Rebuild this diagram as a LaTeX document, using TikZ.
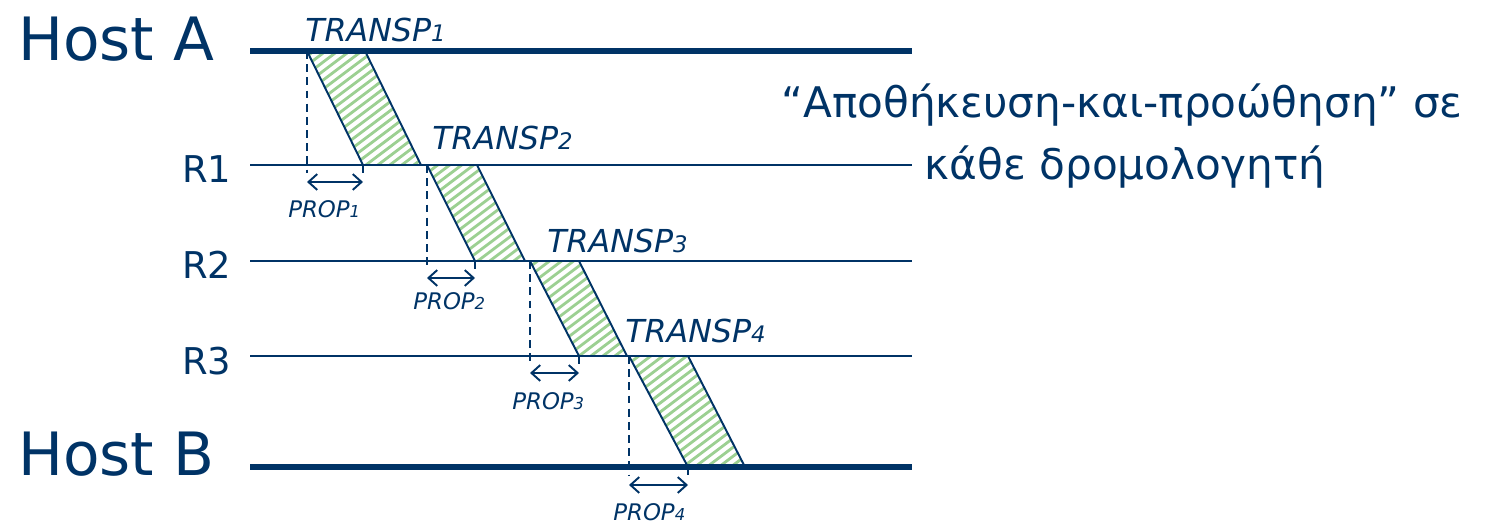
\documentclass[tikz,border=0pt]{standalone}
\usepackage{fontspec}
\setmainfont{DejaVu Sans}
\usetikzlibrary{arrows.meta}
\definecolor{navy}{RGB}{0,51,102}
\definecolor{hatch}{RGB}{156,208,146}
\newcommand{\low}[1]{\scalebox{0.72}{#1}}

\begin{document}
\begin{tikzpicture}[
    x=0.02cm, y=-0.02cm,
    hostline/.style={navy, line width=3.4pt},
    link/.style={navy, line width=1.7pt},
    edge/.style={navy, line width=1.1pt},
    guide/.style={navy, line width=1.1pt, dash pattern=on 4.5pt off 3pt},
    span/.style={navy, line width=1.1pt, {Straight Barb[length=5pt,width=9pt]}-{Straight Barb[length=5pt,width=9pt]}},
    stripe/.style={hatch, line width=1.6pt},
    hostlbl/.style={navy, anchor=base west, inner sep=0pt, font=\fontsize{34}{40}\selectfont},
    rtrlbl/.style={navy, anchor=base west, inner sep=0pt, font=\fontsize{21}{26}\selectfont},
    translbl/.style={navy, anchor=base west, inner sep=0pt, font=\fontsize{18}{20}\selectfont\itshape},
    proplbl/.style={navy, anchor=base west, inner sep=0pt, font=\fontsize{13}{14}\selectfont\itshape},
    notelbl/.style={navy, anchor=base, inner sep=0pt, font=\fontsize{24}{28}\selectfont}
]
\useasboundingbox (0,0) rectangle (1485,526);

% time lines
\coordinate (A0) at (250,51);  \coordinate (A1) at (912,51);
\coordinate (L10) at (250,165); \coordinate (L11) at (912,165);
\coordinate (L20) at (250,261); \coordinate (L21) at (912,261);
\coordinate (L30) at (250,356); \coordinate (L31) at (912,356);
\coordinate (B0) at (250,467);  \coordinate (B1) at (912,467);

% packets in flight
\coordinate (p1a) at (307,51);  \coordinate (p1b) at (365,51);  \coordinate (p1c) at (421,165); \coordinate (p1d) at (363,165);
\coordinate (p2a) at (427,165); \coordinate (p2b) at (477,165); \coordinate (p2c) at (525,261); \coordinate (p2d) at (475,261);
\coordinate (p3a) at (530,261); \coordinate (p3b) at (579,261); \coordinate (p3c) at (627,356); \coordinate (p3d) at (579,356);
\coordinate (p4a) at (629,356); \coordinate (p4b) at (688,356); \coordinate (p4c) at (745,467); \coordinate (p4d) at (688,467);

\begin{scope}
  \clip (p1a) -- (p1b) -- (p1c) -- (p1d) -- cycle
        (p2a) -- (p2b) -- (p2c) -- (p2d) -- cycle
        (p3a) -- (p3b) -- (p3c) -- (p3d) -- cycle
        (p4a) -- (p4b) -- (p4c) -- (p4d) -- cycle;
  \foreach \k in {0,...,105}
    \draw[stripe] (250,9*\k) -- ++(550,-413);
\end{scope}

\draw[hostline] (A0) -- (A1);
\draw[link] (L10) -- (L11);
\draw[link] (L20) -- (L21);
\draw[link] (L30) -- (L31);
\draw[hostline] (B0) -- (B1);

\draw[edge] (p1a) -- (p1d); \draw[edge] (p1b) -- (p1c);
\draw[edge] (p2a) -- (p2d); \draw[edge] (p2b) -- (p2c);
\draw[edge] (p3a) -- (p3d); \draw[edge] (p3b) -- (p3c);
\draw[edge] (p4a) -- (p4d); \draw[edge] (p4b) -- (p4c);

% propagation marks
\coordinate (q1) at (307,173); \coordinate (q2) at (427,269);
\coordinate (q3) at (530,364); \coordinate (q4) at (629,476);
\draw[guide] (p1a) -- (q1); \draw[guide] (p1d) -- (p1d |- q1);
\draw[guide] (p2a) -- (q2); \draw[guide] (p2d) -- (p2d |- q2);
\draw[guide] (p3a) -- (q3); \draw[guide] (p3d) -- (p3d |- q3);
\draw[guide] (p4a) -- (q4); \draw[guide] (p4d) -- (p4d |- q4);

\coordinate (s1l) at (307,182); \coordinate (s1r) at (363,182);
\coordinate (s2l) at (427,278); \coordinate (s2r) at (475,278);
\coordinate (s3l) at (530,373); \coordinate (s3r) at (579,373);
\coordinate (s4l) at (629,485); \coordinate (s4r) at (688,485);
\draw[span] (s1l) -- (s1r);
\draw[span] (s2l) -- (s2r);
\draw[span] (s3l) -- (s3r);
\draw[span] (s4l) -- (s4r);

% labels
\node[hostlbl] (hostA) at (18,61) {Host A};
\node[rtrlbl] (r1) at (182,183) {R1};
\node[rtrlbl] (r2) at (182,279) {R2};
\node[rtrlbl] (r3) at (182,375) {R3};
\node[hostlbl] (hostB) at (18,476) {Host B};

\node[translbl] (tr1) at (305,42) {TRANSP\low{1}};
\node[translbl] (tr2) at (432,150) {TRANSP\low{2}};
\node[translbl] (tr3) at (547,253) {TRANSP\low{3}};
\node[translbl] (tr4) at (625,343) {TRANSP\low{4}};

\node[proplbl] (pr1) at (288,218) {PROP\low{1}};
\node[proplbl] (pr2) at (413,310) {PROP\low{2}};
\node[proplbl] (pr3) at (512,410) {PROP\low{3}};
\node[proplbl] (pr4) at (613,521) {PROP\low{4}};

\node[notelbl] (note1) at (1122,118) {“Αποθήκευση-και-προώθηση” σε};
\node[notelbl] (note2) at (1125,180) {κάθε δρομολογητή};
\end{tikzpicture}
\end{document}
